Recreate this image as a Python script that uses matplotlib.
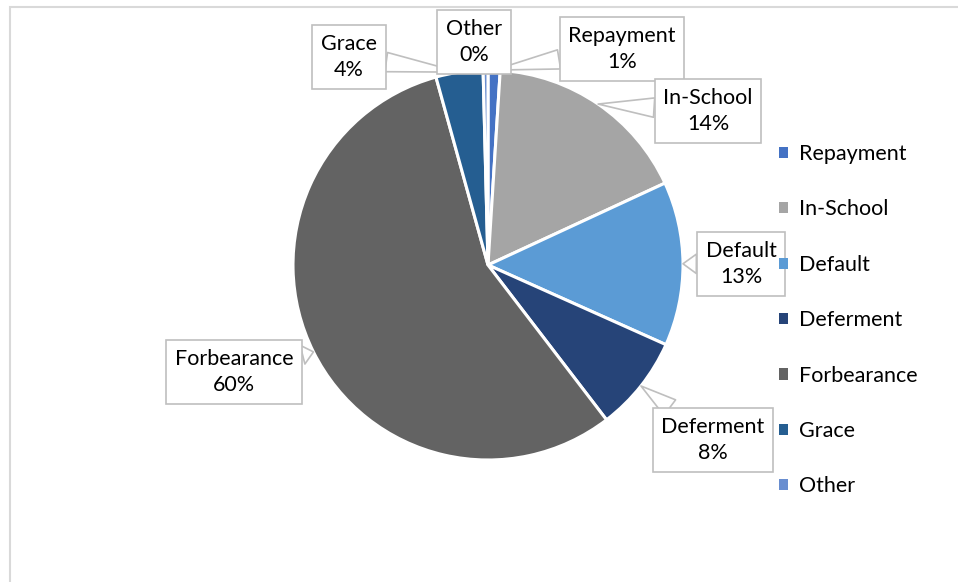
import matplotlib
matplotlib.use('Agg')
import matplotlib.pyplot as plt
from matplotlib.patches import Rectangle
import numpy as np

# --- Data (slice sizes read from the drawn wedges, label text as printed) ---
categories = ['Repayment', 'In-School', 'Default', 'Deferment', 'Forbearance', 'Grace', 'Other']
shares = [1.0, 17.1, 13.6, 7.9, 56.1, 3.9, 0.4]
pct_labels = ['1%', '14%', '13%', '8%', '60%', '4%', '0%']
colors = ['#4472C4', '#A5A5A5', '#5B9BD5', '#264478', '#636363', '#255E91', '#698ED0']

# label box centres in image pixels
label_pos = {
    'Repayment': (622, 49),
    'In-School': (708, 111),
    'Default': (741, 264),
    'Deferment': (713, 440),
    'Forbearance': (234, 372),
    'Grace': (349, 57),
    'Other': (474, 42),
}

# --- Layout ---
W, H = 958, 582
CX, CY, R = 488, 265, 195
FONT = 'Lato'
FS = 15.5


def to_data(x, y):
    return (x - CX) / R, (CY - y) / R


fig = plt.figure(figsize=(W / 100, H / 100), dpi=100)
ax = fig.add_axes([0, 0, 1, 1])

# outer chart frame
fig.patches.append(Rectangle((10 / W, -0.05), 1.1, (H - 7) / H + 0.05,
                             transform=fig.transFigure, fill=False,
                             edgecolor='#D9D9D9', linewidth=1.5))

wedges, _ = ax.pie(shares, colors=colors, startangle=90, counterclock=False,
                   radius=1, center=(0, 0), frame=False,
                   wedgeprops=dict(edgecolor='white', linewidth=2.2))

# pie() resets the limits, so set them afterwards
ax.set_aspect('auto')
ax.set_xlim(-CX / R, (W - CX) / R)
ax.set_ylim(-(H - CY) / R, CY / R)
ax.axis('off')

# --- Data label callouts ---
for w, name, pct in zip(wedges, categories, pct_labels):
    mid = np.deg2rad((w.theta1 + w.theta2) / 2)
    tip = (np.cos(mid), np.sin(mid))
    ax.annotate(f'{name}\n{pct}', xy=tip, xytext=to_data(*label_pos[name]),
                ha='center', va='center', fontsize=FS, family=FONT,
                linespacing=1.4, color='black', zorder=5,
                bbox=dict(boxstyle='square,pad=0.4', fc='white', ec='#BFBFBF', lw=1.2),
                arrowprops=dict(arrowstyle='wedge,tail_width=0.9,shrink_factor=0.5',
                                fc='white', ec='#BFBFBF', lw=1.2, shrinkA=0, shrinkB=0))

# --- Legend ---
leg = ax.legend(wedges, categories, loc='upper left', frameon=False,
                bbox_to_anchor=(779 / W, 1 - 144 / H), borderaxespad=0, borderpad=0,
                prop=dict(family=FONT, size=FS), handlelength=0.42, handleheight=0.42,
                handletextpad=0.5, labelspacing=1.645)
for p in leg.get_patches():
    p.set_edgecolor('none')

plt.savefig('out.png', dpi=100)
